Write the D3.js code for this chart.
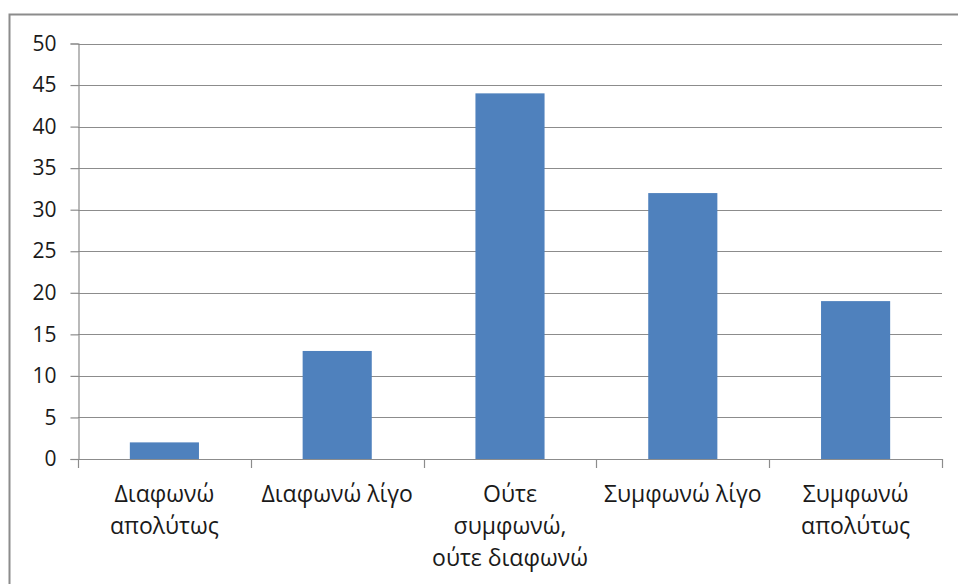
<!DOCTYPE html>
<html>
<head>
<meta charset="utf-8">
<script src="https://cdn.jsdelivr.net/npm/d3@7"></script>
<style>
  html, body { margin: 0; padding: 0; background: #fff; }
  svg { display: block; }
  text { font-family: "Open Sans", "Noto Sans", sans-serif; fill: #1a1a1a; }
</style>
</head>
<body>
<svg id="chart" width="958" height="584"></svg>
<script>
// Responses per agreement level
const categories = [
  ["Διαφωνώ", "απολύτως"],
  ["Διαφωνώ λίγο"],
  ["Ούτε", "συμφωνώ,", "ούτε διαφωνώ"],
  ["Συμφωνώ λίγο"],
  ["Συμφωνώ", "απολύτως"]
];
const values = [2, 13, 44, 32, 19];
const yTicks = [0, 5, 10, 15, 20, 25, 30, 35, 40, 45, 50];

const svg = d3.select("#chart");
const plot = { left: 78, right: 942, top: 43.5, bottom: 459 };

// Outer frame of the chart area
svg.append("rect")
  .attr("x", 9.5).attr("y", 14.5)
  .attr("width", 980).attr("height", 600)
  .attr("fill", "none").attr("stroke", "#8c8c8c").attr("stroke-width", 2);

const x = d3.scaleBand()
  .domain(d3.range(categories.length))
  .range([plot.left, plot.right])
  .paddingInner(0.6).paddingOuter(0.3);

const y = d3.scaleLinear().domain([0, 50]).range([plot.bottom, plot.top]);

// Horizontal gridlines
svg.append("g")
  .selectAll("line")
  .data(yTicks.filter(d => d > 0))
  .join("line")
  .attr("x1", plot.left).attr("x2", plot.right)
  .attr("y1", d => Math.round(y(d)) + 0.5).attr("y2", d => Math.round(y(d)) + 0.5)
  .attr("stroke", "#8c8c8c").attr("stroke-width", 1.2);

// Bars
svg.append("g")
  .selectAll("rect")
  .data(values)
  .join("rect")
  .attr("x", (d, i) => x(i))
  .attr("width", x.bandwidth())
  .attr("y", d => y(d))
  .attr("height", d => y(0) - y(d))
  .attr("fill", "#4f81bd");

// Y axis
const yAxis = d3.axisLeft(y).tickValues(yTicks).tickSize(8).tickPadding(14);
const gy = svg.append("g").attr("transform", `translate(${plot.left + 0.5},0)`).call(yAxis);
gy.selectAll("text").style("font-size", "21px").attr("fill", "#1a1a1a");
gy.select(".domain").attr("stroke", "#8c8c8c").attr("stroke-width", 1.2);
gy.selectAll(".tick line").attr("stroke", "#8c8c8c").attr("stroke-width", 1.2);

// X axis with tick marks at category boundaries
const bounds = d3.range(categories.length + 1)
  .map(i => plot.left + i * (plot.right - plot.left) / categories.length);
const gx = svg.append("g");
gx.append("line")
  .attr("x1", plot.left).attr("x2", plot.right)
  .attr("y1", Math.round(plot.bottom) + 0.5).attr("y2", Math.round(plot.bottom) + 0.5)
  .attr("stroke", "#8c8c8c").attr("stroke-width", 1.2);
gx.selectAll("line.tick")
  .data(bounds)
  .join("line")
  .attr("class", "tick")
  .attr("x1", d => Math.round(d) + 0.5).attr("x2", d => Math.round(d) + 0.5)
  .attr("y1", plot.bottom).attr("y2", plot.bottom + 9)
  .attr("stroke", "#8c8c8c").attr("stroke-width", 1.2);

// Category labels (multi-line)
const labels = svg.append("g")
  .selectAll("text")
  .data(categories)
  .join("text")
  .attr("text-anchor", "middle")
  .attr("x", (d, i) => x(i) + x.bandwidth() / 2)
  .attr("y", 502)
  .style("font-size", "23px");
labels.selectAll("tspan")
  .data(d => d)
  .join("tspan")
  .attr("x", function () { return this.parentNode.getAttribute("x"); })
  .attr("dy", (d, i) => i === 0 ? 0 : 32)
  .text(d => d);
</script>
</body>
</html>
